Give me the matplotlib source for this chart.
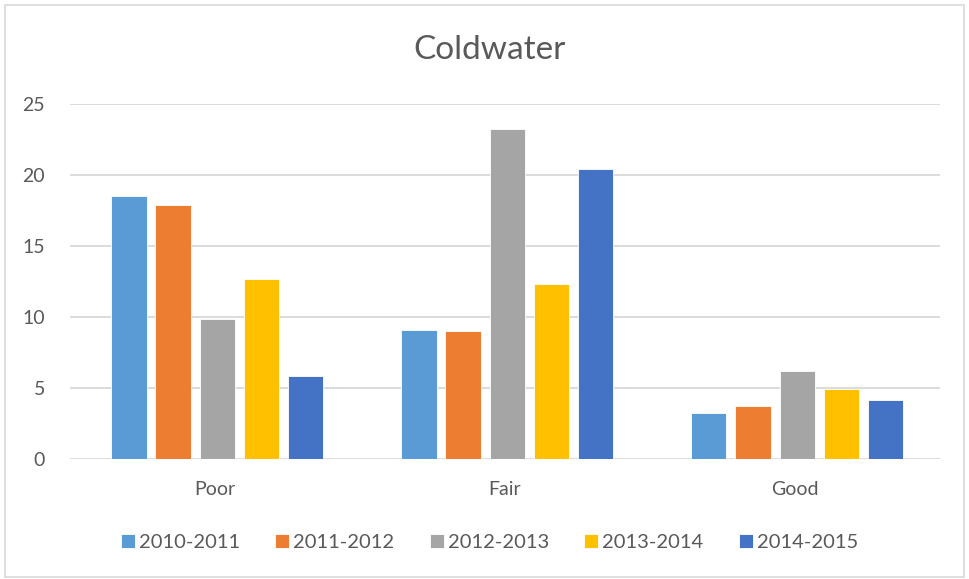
import numpy as np
import matplotlib.pyplot as plt
from matplotlib.patches import Rectangle

plt.rcParams['font.family'] = ['Lato', 'DejaVu Sans']

categories = ['Poor', 'Fair', 'Good']
seasons = ['2010-2011', '2011-2012', '2012-2013', '2013-2014', '2014-2015']
values = {
    '2010-2011': [18.5, 9.05, 3.22],
    '2011-2012': [17.85, 9.0, 3.72],
    '2012-2013': [9.85, 23.2, 6.17],
    '2013-2014': [12.62, 12.3, 4.93],
    '2014-2015': [5.8, 20.43, 4.1],
}
colors = ['#5B9BD5', '#ED7D31', '#A5A5A5', '#FFC000', '#4472C4']

fig = plt.figure(figsize=(9.69, 5.79), dpi=100)
ax = fig.add_axes([0.0722, 0.208, 0.8978, 0.613])

x = np.arange(len(categories))
pitch = 0.1525
width = 0.122
for i, (season, color) in enumerate(zip(seasons, colors)):
    ax.bar(x + (i - 2) * pitch + 0.008, values[season], width, color=color,
           edgecolor='white', linewidth=0.6, label=season, zorder=3)

ax.set_xlim(-0.5, 2.5)
ax.set_ylim(0, 25)
ax.set_yticks(range(0, 26, 5))
ax.set_xticks(x)
ax.set_xticklabels(categories)
ax.grid(axis='y', color='#D9D9D9', linewidth=1.3, zorder=0)
ax.set_axisbelow(True)
for s in ax.spines.values():
    s.set_visible(False)
ax.tick_params(axis='both', length=0, labelsize=14, colors='#595959')
ax.tick_params(axis='y', pad=18)
ax.tick_params(axis='x', pad=16)

fig.text(0.505, 0.913, 'Coldwater', ha='center', va='center',
         fontsize=24, color='#595959')

leg = fig.legend(loc='center', bbox_to_anchor=(0.505, 0.063), ncol=5,
                 frameon=False, fontsize=14.5, handlelength=0.7, handleheight=0.7,
                 handletextpad=0.2, columnspacing=1.75)
for t in leg.get_texts():
    t.set_color('#595959')

fig.patches.append(Rectangle((0.005, 0.004), 0.99, 0.988, transform=fig.transFigure,
                             fill=False, edgecolor='#D9D9D9', linewidth=1.2))

fig.savefig('out.png', dpi=100)
